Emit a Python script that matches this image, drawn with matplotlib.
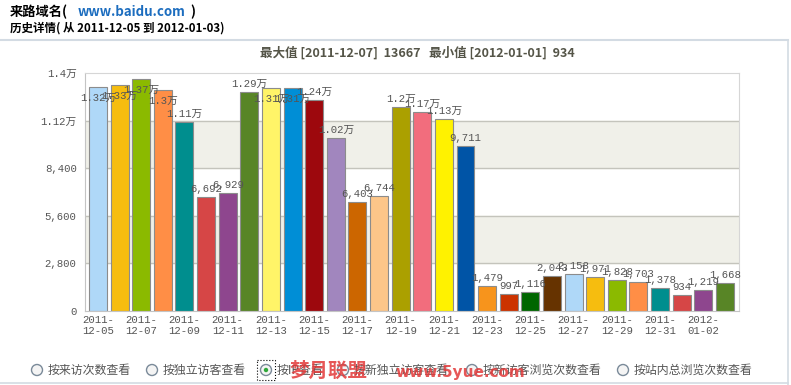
import matplotlib.pyplot as plt
from matplotlib.patches import Rectangle, Circle

# Data
dates = ['2011-12-05', '2011-12-06', '2011-12-07', '2011-12-08', '2011-12-09', '2011-12-10',
         '2011-12-11', '2011-12-12', '2011-12-13', '2011-12-14', '2011-12-15', '2011-12-16',
         '2011-12-17', '2011-12-18', '2011-12-19', '2011-12-20', '2011-12-21', '2011-12-22',
         '2011-12-23', '2011-12-24', '2011-12-25', '2011-12-26', '2011-12-27', '2011-12-28',
         '2011-12-29', '2011-12-30', '2011-12-31', '2012-01-01', '2012-01-02', '2012-01-03']
visits = [13200, 13300, 13667, 13000, 11100, 6692, 6929, 12900, 13100, 13100, 12400, 10200,
          6403, 6744, 12000, 11700, 11300, 9711, 1479, 997, 1116, 2043, 2158, 1971,
          1828, 1703, 1378, 934, 1219, 1668]
yticks = [0, 2800, 5600, 8400, 11200, 14000]
ytick_labels = ['0', '2,800', '5,600', '8,400', '1.12万', '1.4万']
palette = ['#afd8f8', '#f6bd0f', '#8bba00', '#ff8e46', '#008e8e', '#d64646', '#8e468e',
           '#588526', '#fff468', '#008ed6', '#9d080d', '#a186be', '#cc6600', '#fdc689',
           '#aba000', '#f26d7d', '#fff200', '#0054a6', '#f7941c', '#cc3300', '#006600',
           '#663300']
options = ['按来访次数查看', '按独立访客查看', '按IP查看', '按新独立访客查看',
           '按新访客浏览次数查看', '按站内总浏览次数查看']

CJK = ['Noto Sans CJK SC', 'DejaVu Sans']
MONO = ['Liberation Mono', 'Noto Sans CJK SC']
W, H = 791, 385


def fmt(v):
    if v >= 10000:
        return ('%.2f' % (v / 10000)).rstrip('0').rstrip('.') + '万'
    return f'{v:,}'


fig = plt.figure(figsize=(W / 100, H / 100), dpi=100)
fig.patch.set_facecolor('white')

# page decorations
ov = fig.add_axes([0, 0, 1, 1])
ov.set_xlim(0, W)
ov.set_ylim(H, 0)
ov.axis('off')
ov.plot([0, 788], [40, 40], color='#d3dbe3', lw=1.5)
ov.plot([788, 788], [40, 385], color='#d3dbe3', lw=1.2)
ov.plot([0, 788], [383, 383], color='#d3dbe3', lw=1.2)
ov.text(10, 12, '来路域名(', family=CJK, fontsize=9.5, weight='bold', va='center')
ov.text(78, 12, 'www.baidu.com', family=CJK, fontsize=9.5, weight='bold', va='center', color='#1c6dbf')
ov.text(190, 12, ')', family=CJK, fontsize=9.5, weight='bold', va='center')
ov.text(10, 28, '历史详情( 从 2011-12-05 到 2012-01-03)', family=CJK, fontsize=8.3,
        weight='bold', va='center')
ov.text(417, 53, '最大值 [2011-12-07]  13667   最小值 [2012-01-01]  934', family=CJK,
        fontsize=9, weight='bold', va='center', ha='center', color='#555548')

# radio buttons
radio_x = [37, 152, 266, 343, 472, 623]
for i, (rx, label) in enumerate(zip(radio_x, options)):
    ov.add_patch(Circle((rx, 370), 5.5, facecolor='#f4f4f4', edgecolor='#7a8a99', lw=1))
    if i == 2:
        ov.add_patch(Circle((rx, 370), 2.2, facecolor='#2fa83a', edgecolor='none'))
        ov.add_patch(Rectangle((rx - 9, 360), 18, 20, fill=False, ls=':', lw=0.8, ec='black'))
    ov.text(rx + 11, 370, label, family=CJK, fontsize=8.6, va='center', color='#555555')
ov.text(290, 371, '梦月联盟', family=CJK, fontsize=14, weight='bold', va='center',
        color='#e23a3a', alpha=0.85)
ov.text(395, 373, 'www.5yue.com', family=['DejaVu Sans'], fontsize=11, weight='bold',
        va='center', color='#e23a3a', alpha=0.85)

# chart
left, right, top, bottom = 85, 739, 73, 311
ax = fig.add_axes([left / W, 1 - bottom / H, (right - left) / W, (bottom - top) / H])
x = list(range(len(visits)))
colors = [palette[i % len(palette)] for i in x]

ax.set_xlim(-0.6, len(visits) - 0.35)
ax.set_ylim(0, 14000)
ax.axhspan(2800, 5600, color='#f0f0e9', zorder=0)
ax.axhspan(8400, 11200, color='#f0f0e9', zorder=0)
for t in yticks[1:-1]:
    ax.axhline(t, color='#c4c4bc', lw=1, zorder=1)

ax.bar(x, visits, width=0.83, color=colors, edgecolor='#8c8c8c', linewidth=0.8, zorder=2)

for xi, v in zip(x, visits):
    dy = -11 if v >= 13000 else 8
    ax.annotate(fmt(v), (xi, v), xytext=(0, dy), textcoords='offset pixels',
                ha='center', va='center', family=MONO, fontsize=7.7, color='#555555', zorder=3)

for s in ['top', 'right']:
    ax.spines[s].set_color('#d6d6d6')
for s in ['left', 'bottom']:
    ax.spines[s].set_color('#c4c4c4')

ax.set_yticks(yticks)
ax.set_yticklabels(ytick_labels, family=MONO, fontsize=7.7, color='#555555')
ax.set_xticks(x[::2])
ax.set_xticklabels([d[:5] + '\n' + d[5:] for d in dates[::2]], family=MONO,
                   fontsize=7.7, color='#555555', linespacing=1.1)
ax.tick_params(axis='both', length=0, pad=3)
ax.tick_params(axis='y', pad=6)

fig.savefig('out.png', dpi=100)
